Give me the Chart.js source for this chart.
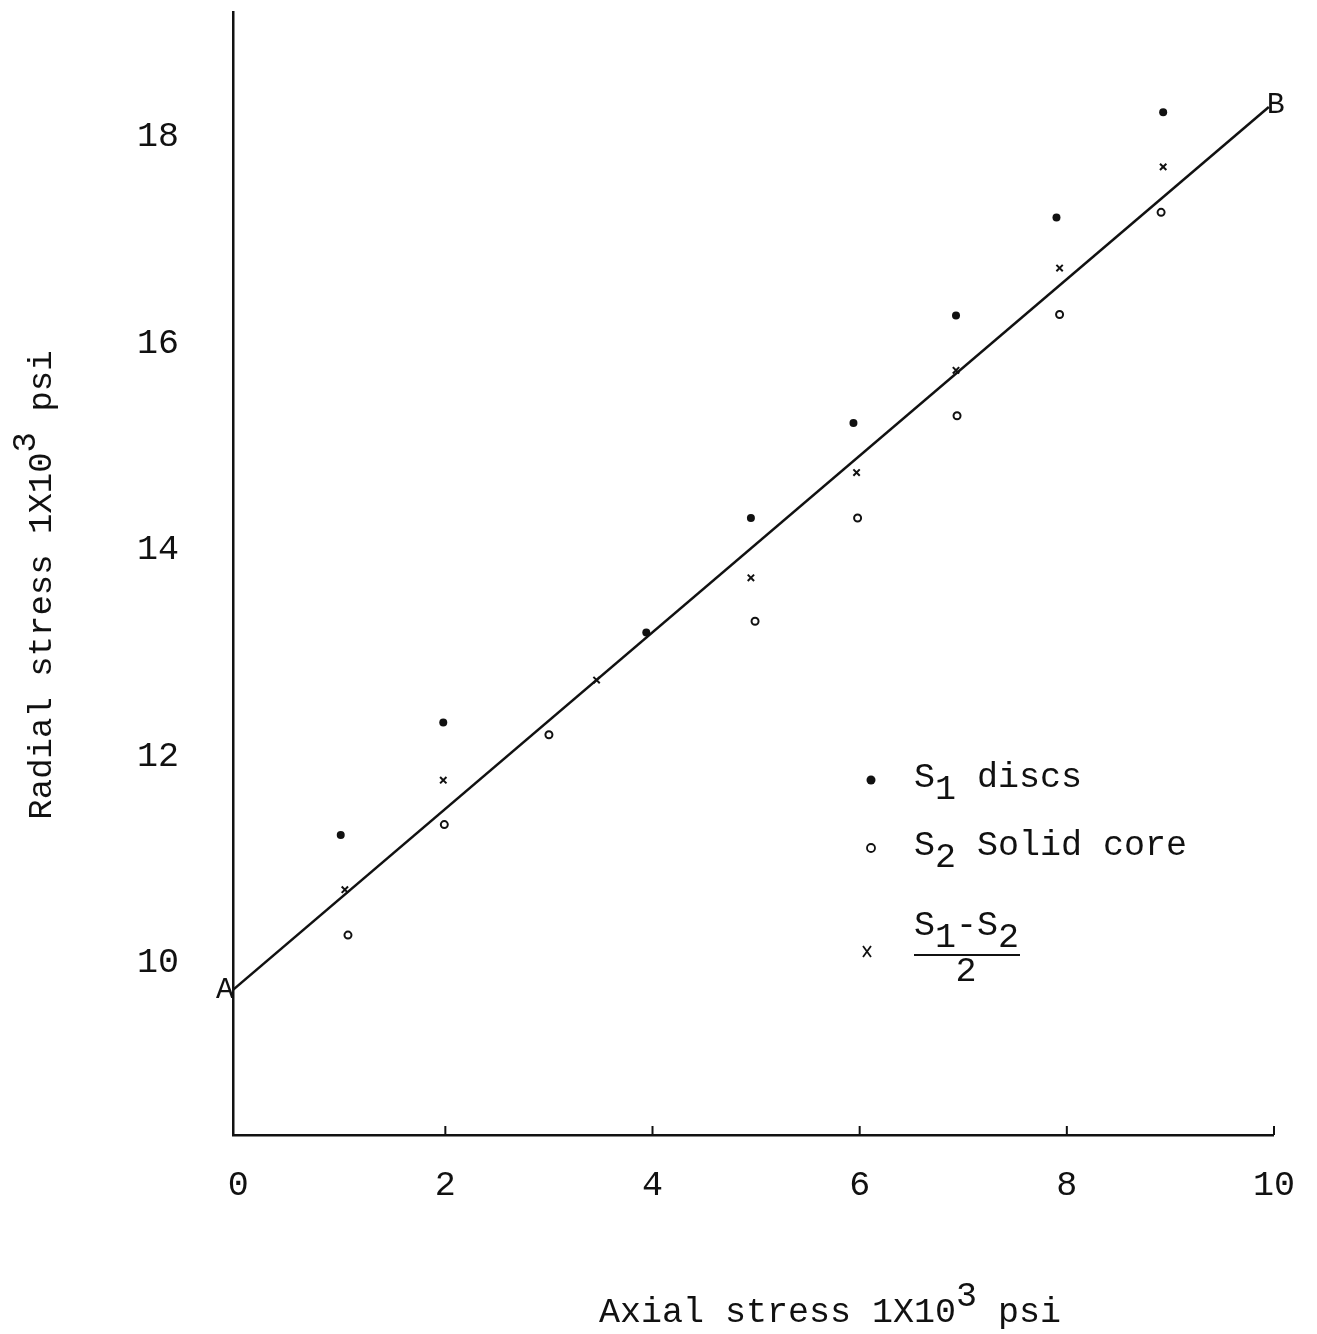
<!DOCTYPE html>
<html>
<head>
<meta charset="utf-8">
<title>Radial stress vs axial stress</title>
<script src="https://cdn.jsdelivr.net/npm/chart.js@4.4.0/dist/chart.umd.min.js"></script>
<style>
    body { margin: 0; background: #fff; }
    #wrap { width: 1317px; height: 1334px; }
</style>
</head>
<body>
<div id="wrap"><canvas id="stressChart" width="1317" height="1334"></canvas></div>
<script>
// ============================================
// DATA (units 1x10^3 psi)
// ============================================
const s1Axial   = [0.99, 1.98, 3.94, 4.95, 5.94, 6.93, 7.90, 8.93];
const s1Radial  = [11.24, 12.33, 13.20, 14.31, 15.23, 16.27, 17.22, 18.24];

const s2Axial   = [1.06, 1.99, 3.00, 4.99, 5.98, 6.94, 7.93, 8.91];
const s2Radial  = [10.27, 11.34, 12.21, 13.31, 14.31, 15.30, 16.28, 17.27];

const avgAxial  = [1.03, 1.98, 3.46, 4.95, 5.97, 6.93, 7.93, 8.93];
const avgRadial = [10.71, 11.77, 12.74, 13.73, 14.75, 15.74, 16.73, 17.71];

// fitted line A-B
const fitAxial  = [-0.05, 9.95];
const fitRadial = [9.74, 18.29];

const xTicks = [0, 2, 4, 6, 8, 10];
const yTicks = [10, 12, 14, 16, 18];

const FONT = '"Liberation Mono", "DejaVu Sans Mono", monospace';
const INK = '#111';

function toPoints(xs, ys) {
    return xs.map((x, i) => ({ x: x, y: ys[i] }));
}

/**
 * Draw a run of text pieces, each with its own vertical shift
 */
function drawPieces(ctx, pieces, x, y, align, size) {
    ctx.font = `${size || 35}px ${FONT}`;
    const total = pieces.reduce((w, p) => w + ctx.measureText(p.t).width, 0);
    let cx = align === 'center' ? x - total / 2 : x;
    ctx.textAlign = 'left';
    ctx.textBaseline = 'middle';
    pieces.forEach(p => {
        ctx.fillText(p.t, cx, y + (p.dy || 0));
        cx += ctx.measureText(p.t).width;
    });
}

/**
 * Extras: axis titles, A/B labels, x tick marks, legend
 */
const extrasPlugin = {
    id: 'extras',
    afterDraw(chart) {
        const ctx = chart.ctx;
        const xs = chart.scales.x;
        const ys = chart.scales.y;
        const area = chart.chartArea;
        ctx.save();
        ctx.fillStyle = INK;
        ctx.strokeStyle = INK;

        // small upward tick marks on the x axis
        ctx.lineWidth = 2;
        xTicks.forEach(v => {
            if (v === 0) return;
            const px = xs.getPixelForValue(v);
            ctx.beginPath();
            ctx.moveTo(px, area.bottom);
            ctx.lineTo(px, area.bottom - 9);
            ctx.stroke();
        });

        // x title
        drawPieces(ctx, [
            { t: 'Axial stress 1X10' },
            { t: '3', dy: -16 },
            { t: ' psi' }
        ], 830, 1313, 'center');

        // y title (rotated)
        ctx.save();
        ctx.translate(42, 585);
        ctx.rotate(-Math.PI / 2);
        drawPieces(ctx, [
            { t: 'Radial stress 1X10' },
            { t: '3', dy: -16 },
            { t: ' psi' }
        ], 0, 0, 'center', 34);
        ctx.restore();

        // A and B at the ends of the fitted line
        ctx.font = `30px ${FONT}`;
        ctx.textBaseline = 'middle';
        ctx.textAlign = 'right';
        ctx.fillText('A', xs.getPixelForValue(fitAxial[0]) + 1, ys.getPixelForValue(fitRadial[0]));
        ctx.textAlign = 'left';
        ctx.fillText('B', xs.getPixelForValue(fitAxial[1]) - 2, ys.getPixelForValue(fitRadial[1]) - 2);

        // legend
        ctx.beginPath();
        ctx.arc(871, 780, 4.5, 0, Math.PI * 2);
        ctx.fill();

        ctx.lineWidth = 1.8;
        ctx.beginPath();
        ctx.arc(871, 848, 4, 0, Math.PI * 2);
        ctx.stroke();

        ctx.beginPath();
        ctx.moveTo(863, 946); ctx.lineTo(871, 957);
        ctx.moveTo(871, 946); ctx.lineTo(863, 957);
        ctx.stroke();

        drawPieces(ctx, [{ t: 'S' }, { t: '1', dy: 12 }, { t: ' discs' }], 914, 778, 'left');
        drawPieces(ctx, [{ t: 'S' }, { t: '2', dy: 12 }, { t: ' Solid core' }], 914, 846, 'left');
        drawPieces(ctx, [{ t: 'S' }, { t: '1', dy: 12 }, { t: '-' }, { t: 'S' }, { t: '2', dy: 12 }], 914, 926, 'left');

        ctx.lineWidth = 2;
        ctx.beginPath();
        ctx.moveTo(914, 955);
        ctx.lineTo(1020, 955);
        ctx.stroke();
        drawPieces(ctx, [{ t: '2' }], 966, 972, 'center');

        ctx.restore();
    }
};

const stressChart = new Chart(document.getElementById('stressChart'), {
    type: 'scatter',
    data: {
        datasets: [
            {
                label: 'Fit A-B',
                type: 'line',
                data: toPoints(fitAxial, fitRadial),
                borderColor: INK,
                borderWidth: 2.5,
                pointRadius: 0,
                fill: false
            },
            {
                label: 'S1 discs',
                data: toPoints(s1Axial, s1Radial),
                pointStyle: 'circle',
                pointRadius: 4,
                backgroundColor: INK,
                borderColor: INK,
                borderWidth: 0
            },
            {
                label: 'S2 Solid core',
                data: toPoints(s2Axial, s2Radial),
                pointStyle: 'circle',
                pointRadius: 3.5,
                backgroundColor: '#fff',
                borderColor: INK,
                borderWidth: 2
            },
            {
                label: '(S1-S2)/2',
                data: toPoints(avgAxial, avgRadial),
                pointStyle: 'crossRot',
                pointRadius: 4.5,
                borderColor: INK,
                borderWidth: 2
            }
        ]
    },
    options: {
        responsive: false,
        animation: false,
        layout: {
            padding: { top: 12, right: 42, bottom: 0, left: 0 }
        },
        plugins: {
            legend: { display: false },
            tooltip: { enabled: false }
        },
        scales: {
            x: {
                type: 'linear',
                min: -0.05,
                max: 10,
                grid: { display: false },
                border: { display: true, color: INK, width: 2.5 },
                ticks: {
                    color: INK,
                    font: { family: FONT, size: 35 },
                    padding: 22
                },
                afterBuildTicks: scale => {
                    scale.ticks = xTicks.map(v => ({ value: v }));
                },
                afterFit: scale => {
                    scale.height = 199;
                }
            },
            y: {
                type: 'linear',
                min: 8.334,
                max: 19.21,
                grid: { display: false },
                border: { display: true, color: INK, width: 2.5 },
                ticks: {
                    color: INK,
                    font: { family: FONT, size: 35 },
                    padding: 46
                },
                afterBuildTicks: scale => {
                    scale.ticks = yTicks.map(v => ({ value: v }));
                },
                afterFit: scale => {
                    scale.width = 233;
                    // tick padding would otherwise push the plot area down
                    scale.paddingTop = 0;
                    scale.paddingBottom = 0;
                }
            }
        }
    },
    plugins: [extrasPlugin]
});
</script>
</body>
</html>
